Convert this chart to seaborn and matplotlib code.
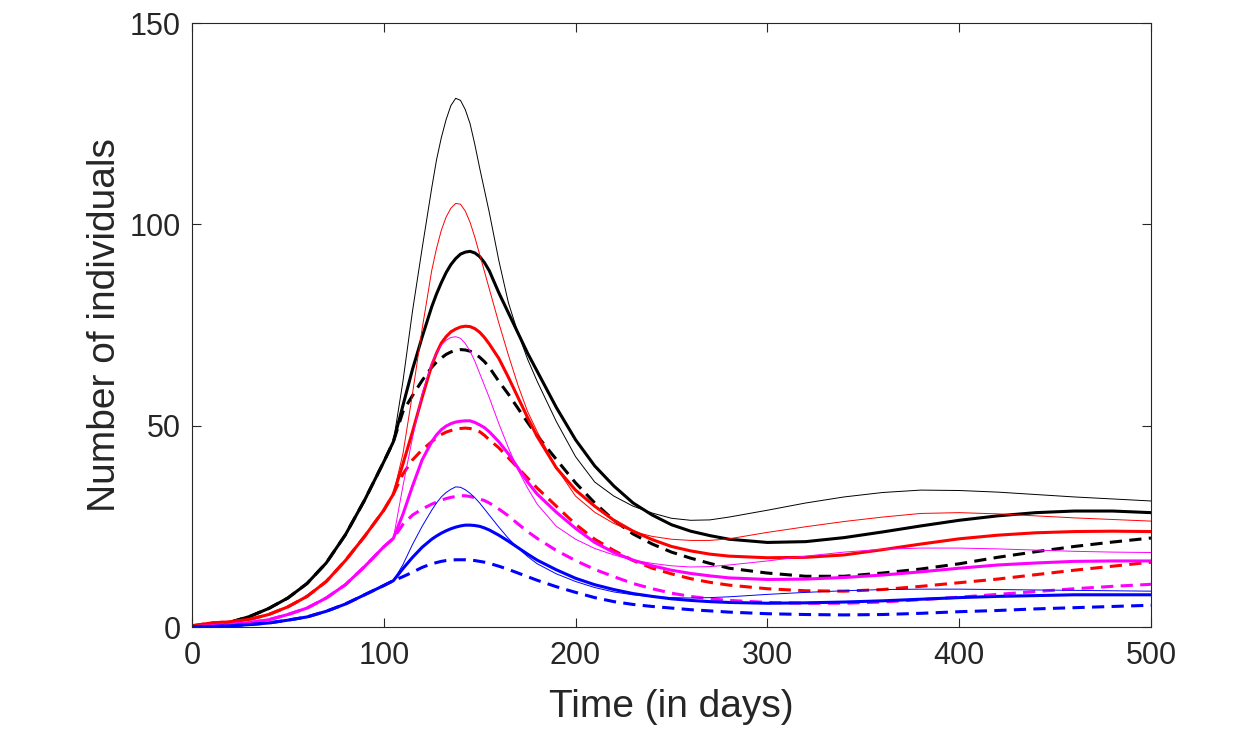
import matplotlib
matplotlib.use("Agg")
import matplotlib.pyplot as plt
import numpy as np
import pandas as pd
import seaborn as sns

# time points (days): before the split all three curves of a group coincide
T_PRE = [0, 10, 20, 30, 40, 50, 60, 70, 80, 90, 100, 105]
T_POST = [110, 115, 120,
          125, 127.5, 130, 132.5, 135, 137.5, 140, 142.5, 145, 147.5, 150, 152.5, 155,
          160, 165, 170, 175, 180,
          190, 200, 210, 220, 230, 240, 250, 260, 270, 280,
          300, 320, 340, 360, 380, 400, 420, 440, 460, 480, 500]

# shared part of each colour group (t = 0 .. 105)
black_pre = [0.1, 0.5, 1.2, 2.6, 4.6, 7.2, 10.8, 15.9, 22.9, 31.5, 41, 46]
red_pre = [0.3, 1.0, 1.3, 1.9, 3.1, 5.0, 7.6, 11.3, 16.5, 22.5, 29, 33]
magenta_pre = [0.05, 0.3, 0.6, 1.1, 1.8, 3.1, 4.7, 7.2, 10.5, 15, 19.9, 22]
blue_pre = [0.02, 0.1, 0.3, 0.6, 1.0, 1.7, 2.5, 3.9, 5.7, 8.0, 10.3, 11.5]

# after the split (t = 110 .. 500)
black_thin = [61, 78.5, 94,
              109, 116, 121.5, 126, 129.5, 131.3, 130.8, 128.5, 125, 119.8, 114, 108.5, 103,
              91, 80.5, 73, 66.5, 61,
              51, 42.3, 36, 32.5, 30, 28.3, 27.0, 26.5, 26.6, 27.3,
              29.0, 30.8, 32.3, 33.4, 34.0, 33.9, 33.5, 32.9, 32.3, 31.8, 31.3]
black_thick = [55, 64, 72,
               79.5, 82.7, 85.5, 88, 90, 91.5, 92.6, 93.1, 93.3, 92.9, 92, 90.5, 88.5,
               83, 78, 73, 68, 63.5,
               54.5, 46.5, 40, 35, 30.8, 27.8, 25.4, 23.8, 22.7, 21.8,
               21.0, 21.2, 22.2, 23.6, 25.1, 26.5, 27.6, 28.4, 28.8, 28.8, 28.4]
black_dash = [53.5, 57.5, 61.2,
              64.5, 65.8, 66.8, 67.7, 68.3, 68.7, 68.9, 68.8, 68.5, 67.9, 67, 65.9, 64.5,
              61, 57.8, 54.3, 50.8, 47.5,
              41.6, 35.8, 30.8, 26.5, 23.1, 20.6, 18.6, 17.1, 15.8, 14.6,
              13.4, 12.6, 12.6, 13.4, 14.4, 15.7, 17.3, 18.7, 20.0, 21.1, 22.1]

red_thin = [43, 58, 74,
            88.5, 94, 98.5, 101.8, 104, 105.2, 105, 103.3, 100.5, 96.8, 92.5, 88.3, 84,
            75.5, 67.5, 60, 53.5, 48.5,
            39.5, 32.5, 28.5, 25.7, 23.7, 22.5, 21.8, 21.5, 21.5, 21.9,
            23.5, 24.9, 26.2, 27.3, 28.2, 28.4, 28.1, 27.6, 27.1, 26.7, 26.3]
red_thick = [40.5, 48.5, 57,
             65, 68, 70.5, 72.1, 73.3, 74, 74.5, 74.7, 74.6, 74.1, 73.2, 71.9, 70.3,
             66.7, 62, 57, 52, 47.3,
             39.5, 34, 30, 26.5, 23.8, 21.7, 20, 18.9, 18.1, 17.6,
             17.2, 17.3, 17.9, 19.2, 20.6, 21.9, 22.8, 23.4, 23.7, 23.8, 23.7]
red_dash = [38, 41.5, 44,
            46, 47, 47.8, 48.4, 48.8, 49.1, 49.3, 49.4, 49.3, 49, 48.5, 47.6, 46.5,
            44.5, 42, 39.5, 37, 34.5,
            30, 25.5, 21.8, 19, 16.5, 14.6, 13.2, 12.0, 11.1, 10.4,
            9.5, 9.0, 8.9, 9.3, 10.1, 11.0, 11.9, 13.0, 14.1, 15.1, 16.1]

magenta_thin = [35, 47, 58,
                65.5, 68, 70, 71.2, 71.9, 72.1, 71.7, 70.4, 68.5, 66, 63, 60, 57,
                50.5, 44.5, 39, 34.5, 30.5,
                25, 21.8, 19.5, 17.9, 16.6, 15.8, 15.2, 14.9, 15.0, 15.4,
                16.4, 17.6, 18.6, 19.3, 19.6, 19.6, 19.4, 19.1, 18.8, 18.6, 18.5]
magenta_thick = [28, 35, 41.5,
                 46, 47.7, 49, 49.9, 50.5, 50.9, 51.1, 51.2, 51.2, 50.8, 50.2, 49.5, 48.5,
                 46, 43, 39.5, 36, 33,
                 28.5, 24.5, 21, 18.5, 16.6, 15.2, 14.1, 13.3, 12.7, 12.2,
                 11.8, 11.9, 12.3, 12.9, 13.7, 14.6, 15.4, 15.9, 16.3, 16.4, 16.4]
magenta_dash = [25.5, 27.8, 29.3,
                30.5, 31, 31.5, 31.9, 32.2, 32.4, 32.6, 32.6, 32.4, 32.1, 31.8, 31.4, 30.8,
                29.3, 27.6, 25.6, 23.7, 22,
                19, 16.5, 14.3, 12.5, 10.8, 9.5, 8.4, 7.6, 7.0, 6.6,
                6.1, 5.9, 5.9, 6.2, 6.8, 7.4, 8.1, 8.8, 9.5, 10.1, 10.6]

blue_thin = [15.5, 20.5, 25,
             29, 30.8, 32.3, 33.4, 34.2, 34.8, 34.7, 34.1, 33.2, 32.1, 30.8, 29.3, 27.8,
             24.8, 22.0, 19.6, 17.5, 15.7,
             13.2, 11.3, 9.8, 8.7, 8.0, 7.5, 7.3, 7.2, 7.3, 7.5,
             8.1, 8.6, 9.0, 9.3, 9.4, 9.4, 9.3, 9.2, 9.1, 9.0, 8.9]
blue_thick = [14.5, 17.3, 19.8,
              21.8, 22.6, 23.3, 23.9, 24.4, 24.8, 25.1, 25.3, 25.3, 25.2, 25, 24.6, 24.1,
              22.8, 21.3, 19.7, 18.1, 16.6,
              14.2, 12.1, 10.5, 9.3, 8.3, 7.6, 7.0, 6.6, 6.3, 6.1,
              5.9, 6.0, 6.2, 6.5, 6.9, 7.3, 7.6, 7.8, 8.0, 8.0, 8.0]
blue_dash = [12.5, 13.6, 14.8,
             15.7, 16, 16.3, 16.5, 16.6, 16.7, 16.7, 16.7, 16.6, 16.5, 16.3, 16.1, 15.8,
             15.1, 14.3, 13.4, 12.5, 11.6,
             10.0, 8.6, 7.3, 6.3, 5.6, 5.1, 4.7, 4.3, 4.0, 3.7,
             3.3, 3.1, 3.0, 3.1, 3.4, 3.8, 4.1, 4.5, 4.8, 5.1, 5.4]

sns.set_style("ticks")
plt.rcParams['font.family'] = ['Liberation Sans', 'DejaVu Sans']

fig = plt.figure(figsize=(12.4, 7.4), dpi=100)
ax = fig.add_axes([0.1548, 0.1527, 0.7734, 0.8162])

t_all = T_PRE + T_POST
dash = (0, (4, 2.4))
series = [
    (black_pre, black_thin, 'black', 0.7, '-'),
    (black_pre, black_thick, 'black', 2.2, '-'),
    (black_pre, black_dash, 'black', 2.2, dash),
    (red_pre, red_thin, '#ff0000', 0.7, '-'),
    (red_pre, red_thick, '#ff0000', 2.2, '-'),
    (red_pre, red_dash, '#ff0000', 2.2, dash),
    (magenta_pre, magenta_thin, '#ff00ff', 0.7, '-'),
    (magenta_pre, magenta_thick, '#ff00ff', 2.2, '-'),
    (magenta_pre, magenta_dash, '#ff00ff', 2.2, dash),
    (blue_pre, blue_thin, '#0000ff', 0.7, '-'),
    (blue_pre, blue_thick, '#0000ff', 2.2, '-'),
    (blue_pre, blue_dash, '#0000ff', 2.2, dash),
]
for pre, post, col, lw, ls in series:
    df = pd.DataFrame({'t': t_all, 'n': pre + post})
    sns.lineplot(data=df, x='t', y='n', ax=ax, color=col, linewidth=lw,
                 linestyle=ls, estimator=None, errorbar=None)

ax.set_xlim(0, 500)
ax.set_ylim(0, 150)
ax.set_xticks([0, 100, 200, 300, 400, 500])
ax.set_yticks([0, 50, 100, 150])
for s in ax.spines.values():
    s.set_visible(True)
    s.set_color('#262626')
    s.set_linewidth(0.8)
ax.tick_params(which='both', direction='in', top=True, right=True, length=6.5,
               width=0.8, color='#262626', labelcolor='#262626', labelsize=22)
ax.tick_params(axis='x', pad=10)
ax.tick_params(axis='y', pad=8)
ax.set_xlabel('Time (in days)', fontsize=28, color='#262626', labelpad=13)
ax.set_ylabel('Number of individuals', fontsize=28, color='#262626', labelpad=5)

fig.savefig('out.png', dpi=100, facecolor='white')
